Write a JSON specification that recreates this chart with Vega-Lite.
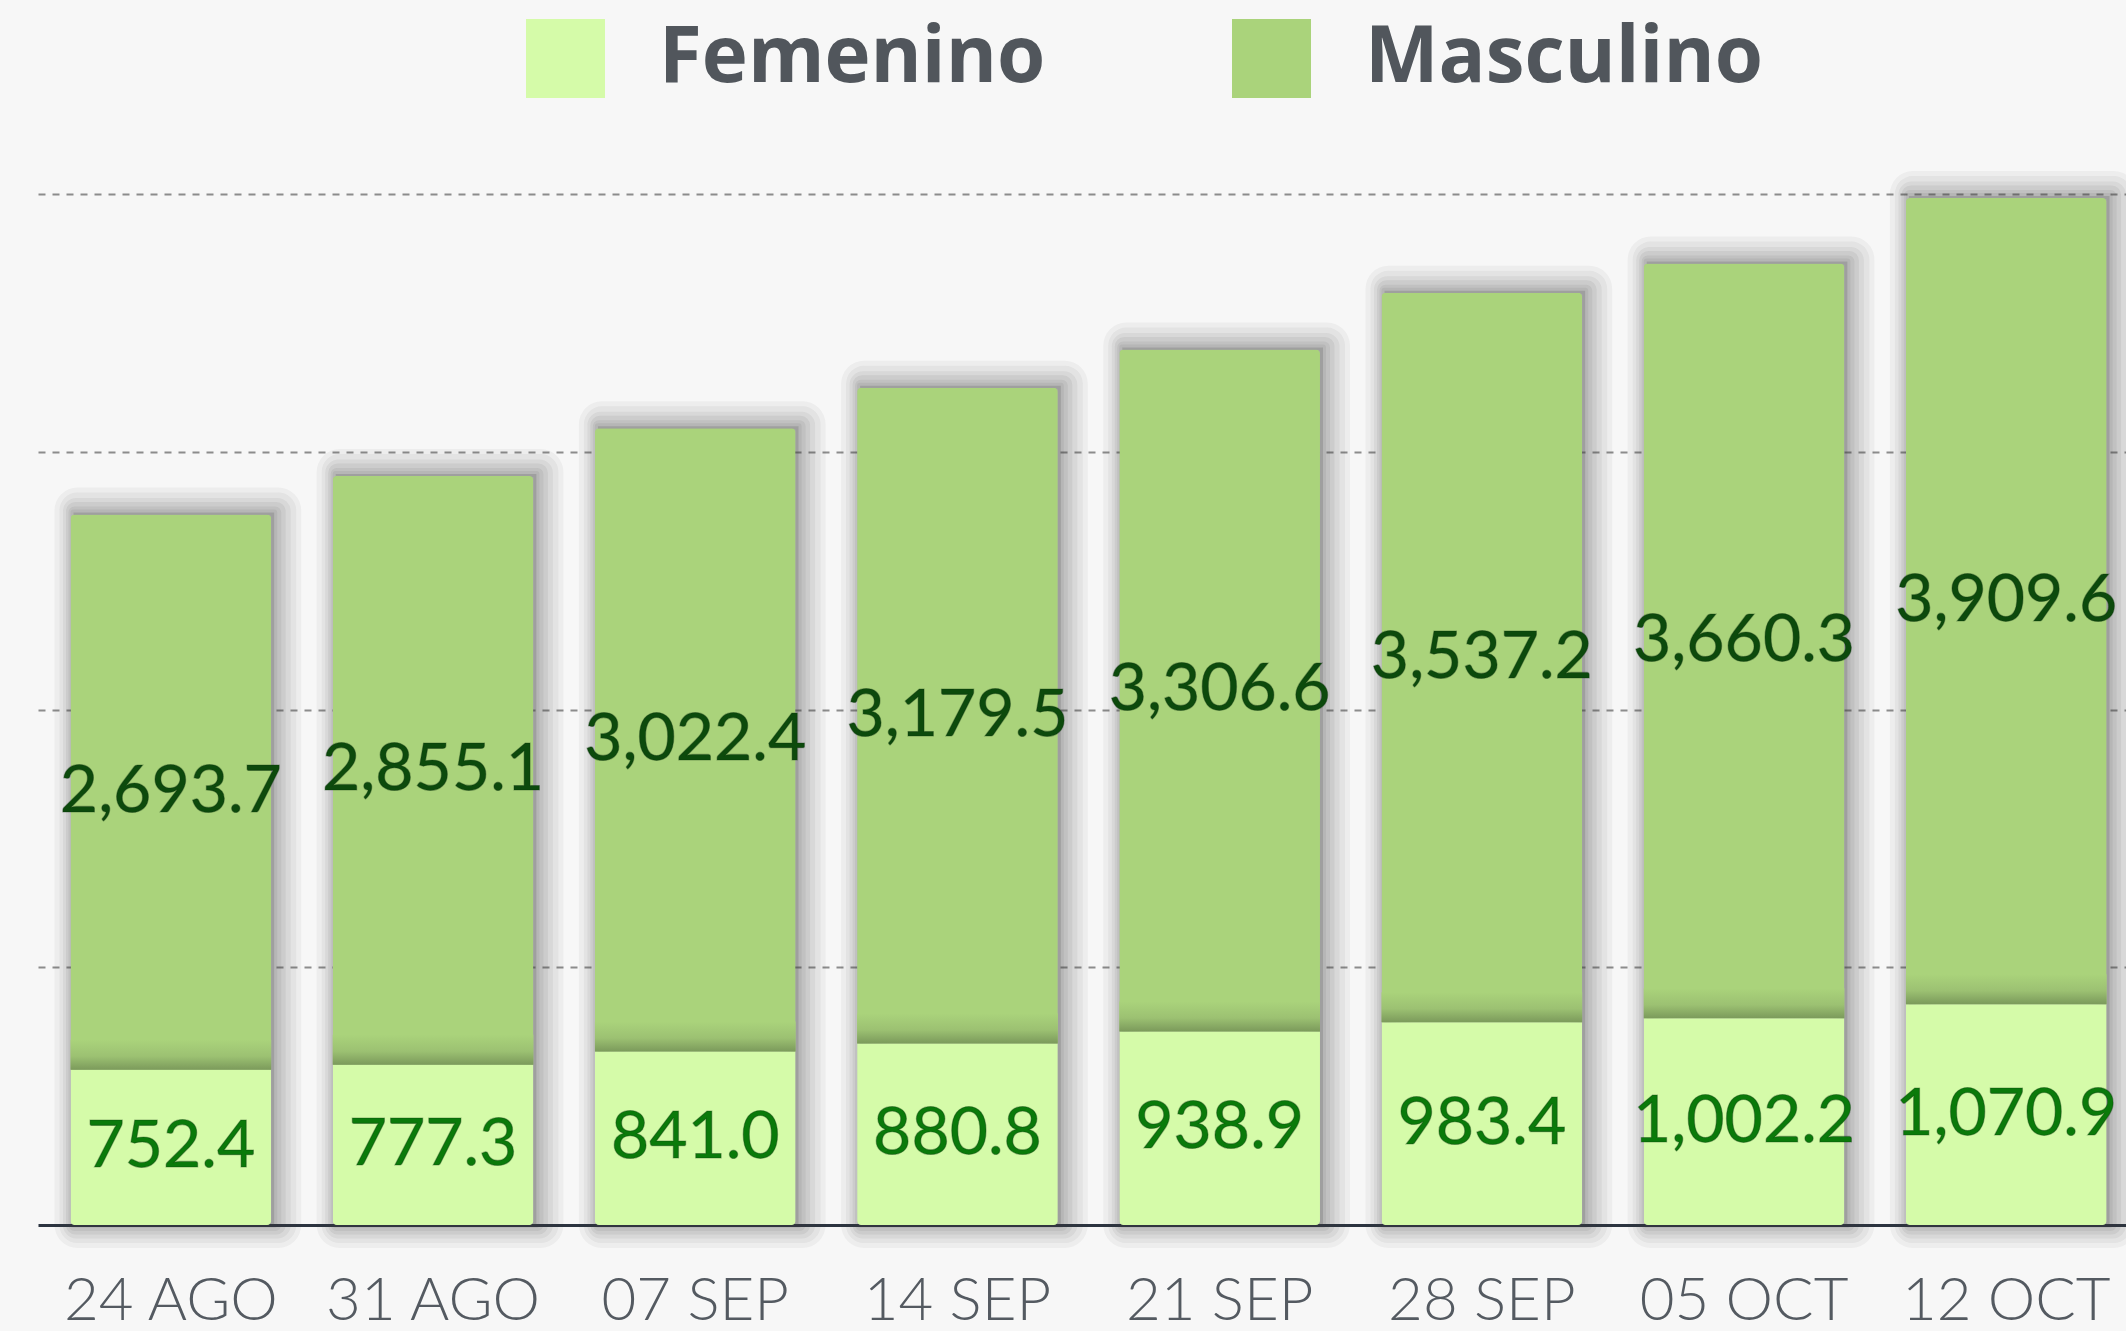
{
  "$schema": "https://vega.github.io/schema/vega-lite/v6.json",
  "width": 2088,
  "height": 1031,
  "autosize": {"type": "none"},
  "padding": {"left": 38, "top": 194, "right": 0, "bottom": 106},
  "background": "#f7f7f7",
  "config": {"view": {"stroke": null}},
  "data": {
    "values": [
      {"fecha": "24 AGO", "sexo": "Femenino", "value": 752.4},
      {"fecha": "24 AGO", "sexo": "Masculino", "value": 2693.7},
      {"fecha": "31 AGO", "sexo": "Femenino", "value": 777.3},
      {"fecha": "31 AGO", "sexo": "Masculino", "value": 2855.1},
      {"fecha": "07 SEP", "sexo": "Femenino", "value": 841.0},
      {"fecha": "07 SEP", "sexo": "Masculino", "value": 3022.4},
      {"fecha": "14 SEP", "sexo": "Femenino", "value": 880.8},
      {"fecha": "14 SEP", "sexo": "Masculino", "value": 3179.5},
      {"fecha": "21 SEP", "sexo": "Femenino", "value": 938.9},
      {"fecha": "21 SEP", "sexo": "Masculino", "value": 3306.6},
      {"fecha": "28 SEP", "sexo": "Femenino", "value": 983.4},
      {"fecha": "28 SEP", "sexo": "Masculino", "value": 3537.2},
      {"fecha": "05 OCT", "sexo": "Femenino", "value": 1002.2},
      {"fecha": "05 OCT", "sexo": "Masculino", "value": 3660.3},
      {"fecha": "12 OCT", "sexo": "Femenino", "value": 1070.9},
      {"fecha": "12 OCT", "sexo": "Masculino", "value": 3909.6}
    ]
  },
  "encoding": {
    "x": {
      "field": "fecha",
      "type": "nominal",
      "title": null,
      "scale": {
        "domain": ["24 AGO", "31 AGO", "07 SEP", "14 SEP", "21 SEP", "28 SEP", "05 OCT", "12 OCT"],
        "paddingInner": 0.2346,
        "paddingOuter": 0.099,
        "align": 0.626
      },
      "axis": {
        "domain": true,
        "domainColor": "#2c3440",
        "domainWidth": 3,
        "ticks": false,
        "grid": false,
        "labelAngle": 0,
        "labelFont": "Lato",
        "labelFontWeight": 300,
        "labelFontSize": 60,
        "labelColor": "#545a61",
        "labelPadding": 47,
        "labelLimit": 0
      }
    }
  },
  "layer": [
    {
      "mark": {"type": "bar", "fill": "#444444", "fillOpacity": 0, "stroke": "#444444", "strokeOpacity": 0.05, "strokeWidth": 46, "strokeJoin": "round", "xOffset": 7, "yOffset": -4},
      "encoding": {
        "y": {
          "aggregate": "sum",
          "field": "value",
          "type": "quantitative",
          "title": null,
          "scale": {"domain": [0, 5000], "nice": false, "zero": true},
          "axis": {
            "values": [1250, 2500, 3750, 5000],
            "grid": true,
            "gridDash": [7, 7],
            "gridColor": "#8c8c8c",
            "gridWidth": 2,
            "labels": false,
            "ticks": false,
            "domain": false,
            "title": null
          }
        }
      }
    },
    {
      "mark": {"type": "bar", "fill": "#444444", "fillOpacity": 0, "stroke": "#444444", "strokeOpacity": 0.06, "strokeWidth": 36, "strokeJoin": "round", "xOffset": 7, "yOffset": -4},
      "encoding": {"y": {"aggregate": "sum", "field": "value", "type": "quantitative", "title": null}}
    },
    {
      "mark": {"type": "bar", "fill": "#444444", "fillOpacity": 0, "stroke": "#444444", "strokeOpacity": 0.07, "strokeWidth": 27, "strokeJoin": "round", "xOffset": 6, "yOffset": -3},
      "encoding": {"y": {"aggregate": "sum", "field": "value", "type": "quantitative", "title": null}}
    },
    {
      "mark": {"type": "bar", "fill": "#444444", "fillOpacity": 0, "stroke": "#444444", "strokeOpacity": 0.08, "strokeWidth": 19, "strokeJoin": "round", "xOffset": 5, "yOffset": -3},
      "encoding": {"y": {"aggregate": "sum", "field": "value", "type": "quantitative", "title": null}}
    },
    {
      "mark": {"type": "bar", "fill": "#444444", "fillOpacity": 0, "stroke": "#444444", "strokeOpacity": 0.08, "strokeWidth": 12, "strokeJoin": "round", "xOffset": 4, "yOffset": -2},
      "encoding": {"y": {"aggregate": "sum", "field": "value", "type": "quantitative", "title": null}}
    },
    {
      "mark": {"type": "bar", "fill": "#444444", "fillOpacity": 0.2, "stroke": "#444444", "strokeOpacity": 0.08, "strokeWidth": 6, "strokeJoin": "round", "xOffset": 3, "yOffset": -2},
      "encoding": {"y": {"aggregate": "sum", "field": "value", "type": "quantitative", "title": null}}
    },
    {
      "mark": {"type": "bar", "cornerRadius": 4},
      "encoding": {
        "y": {"field": "value", "type": "quantitative", "stack": "zero", "title": null},
        "color": {
          "field": "sexo",
          "type": "nominal",
          "scale": {"domain": ["Femenino", "Masculino"], "range": ["#d5fba9", "#aad37b"]},
          "legend": {
            "orient": "none",
            "legendX": 488,
            "legendY": -175,
            "direction": "horizontal",
            "title": null,
            "symbolType": "square",
            "symbolSize": 6241,
            "symbolStrokeWidth": 0,
            "symbolOpacity": 1,
            "labelFont": "Open Sans",
            "labelFontSize": 78,
            "labelFontWeight": "bold",
            "labelColor": "#51565c",
            "labelOffset": 54,
            "columnPadding": 186,
            "padding": 0,
            "labelLimit": 0
          }
        },
        "order": {"field": "sexo"}
      }
    },
    {
      "transform": [{"filter": "datum.sexo === 'Femenino'"}],
      "mark": {
        "type": "bar",
        "yOffset": -30,
        "fill": {
          "gradient": "linear",
          "x1": 0, "y1": 0, "x2": 0, "y2": 1,
          "stops": [
            {"offset": 0, "color": "#aad37b"},
            {"offset": 0.55, "color": "#9cc172"},
            {"offset": 1, "color": "#7b9a5b"}
          ]
        }
      },
      "encoding": {
        "y": {"field": "value", "type": "quantitative", "stack": null, "title": null},
        "y2": {"field": "value"}
      }
    },
    {
      "mark": {"type": "text", "font": "Lato", "fontSize": 66, "baseline": "middle", "align": "center", "stroke": "#113311", "strokeWidth": 1.2, "strokeOpacity": 0.35},
      "encoding": {
        "y": {"field": "value", "type": "quantitative", "stack": "zero", "bandPosition": 0.5, "title": null},
        "detail": {"field": "sexo"},
        "order": {"field": "sexo"},
        "text": {"field": "value", "type": "quantitative", "format": ",.1f"},
        "color": {
          "condition": {"test": "datum.sexo === 'Femenino'", "value": "#0a7a0a"},
          "value": "#0c4a0c"
        }
      }
    }
  ]
}
